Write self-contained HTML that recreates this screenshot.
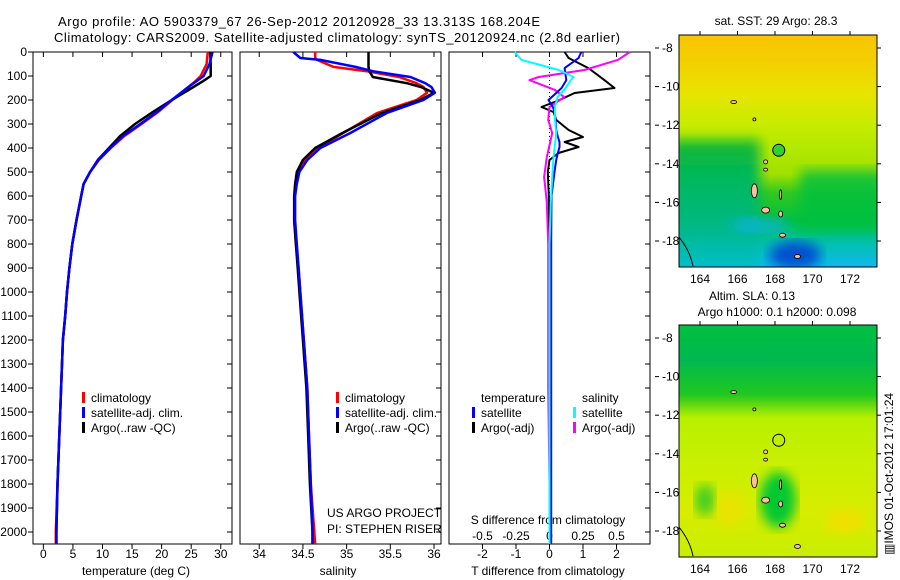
<!DOCTYPE html>
<html><head><meta charset="utf-8"><style>
html,body{margin:0;padding:0;background:#fff}
svg{display:block;font-family:"Liberation Sans",sans-serif}
text{font-size:12px;fill:#000}
</style></head><body>
<svg id="c" width="900" height="580" viewBox="0 0 900 580">
<defs>
<linearGradient id="sst" x1="0" y1="0" x2="0" y2="1">
<stop offset="0" stop-color="#f8c400"/><stop offset="0.12" stop-color="#f4d000"/>
<stop offset="0.25" stop-color="#e8e400"/><stop offset="0.38" stop-color="#c8ec00"/>
<stop offset="0.5" stop-color="#b0e800"/><stop offset="0.6" stop-color="#a0e000"/>
<stop offset="0.68" stop-color="#30c820"/><stop offset="0.8" stop-color="#00c040"/>
<stop offset="0.9" stop-color="#00c0b0"/><stop offset="1" stop-color="#10b8f0"/>
</linearGradient>
<linearGradient id="sstL" x1="0" y1="0" x2="0" y2="1">
<stop offset="0" stop-color="#10b830"/><stop offset="0.3" stop-color="#00b860"/>
<stop offset="0.6" stop-color="#00b880"/><stop offset="1" stop-color="#00c0e0"/>
</linearGradient>
<linearGradient id="sla" x1="0" y1="0" x2="0" y2="1">
<stop offset="0" stop-color="#00c040"/><stop offset="0.15" stop-color="#00b850"/>
<stop offset="0.3" stop-color="#20c820"/><stop offset="0.4" stop-color="#b8f000"/>
<stop offset="0.6" stop-color="#c8f000"/><stop offset="0.8" stop-color="#d8ec00"/>
<stop offset="1" stop-color="#c8ee00"/>
</linearGradient>
<filter id="bl"><feGaussianBlur stdDeviation="6"/></filter>
<clipPath id="m1"><rect x="679" y="35" width="198" height="232"/></clipPath>
<clipPath id="m2"><rect x="679" y="325" width="198" height="232"/></clipPath>
</defs>

<text x="58" y="26" style="font-size:13px" textLength="482">Argo profile: AO 5903379_67 26-Sep-2012 20120928_33 13.313S 168.204E</text>
<text x="54" y="42" style="font-size:13px" textLength="566">Climatology: CARS2009. Satellite-adjusted climatology: synTS_20120924.nc (2.8d earlier)</text>

<g id="panels"></g>

<g>
<text x="776" y="25" text-anchor="middle">sat. SST: 29 Argo: 28.3</text>
<g clip-path="url(#m1)">
<rect x="679" y="35" width="198" height="232" fill="url(#sst)"/>
<rect x="670" y="140" width="90" height="140" fill="url(#sstL)" filter="url(#bl)"/>
<rect x="800" y="170" width="85" height="60" fill="#00c040" filter="url(#bl)" opacity="0.8"/>
<ellipse cx="795" cy="255" rx="26" ry="14" fill="#0050d0" filter="url(#bl)"/>
<ellipse cx="760" cy="225" rx="30" ry="8" fill="#10b0f0" filter="url(#bl)" opacity="0.7"/>
</g>
<rect x="679" y="35" width="198" height="232" fill="none" stroke="#000"/>
</g>
<g>
<text x="752" y="300" text-anchor="middle">Altim. SLA: 0.13</text>
<text x="777" y="316" text-anchor="middle">Argo h1000: 0.1 h2000: 0.098</text>
<g clip-path="url(#m2)">
<rect x="679" y="325" width="198" height="232" fill="url(#sla)"/>
<ellipse cx="778" cy="500" rx="18" ry="28" fill="#00c830" filter="url(#bl)"/>
<ellipse cx="705" cy="500" rx="10" ry="16" fill="#40cc20" filter="url(#bl)"/>
<ellipse cx="845" cy="522" rx="20" ry="12" fill="#f0e000" filter="url(#bl)"/>
<ellipse cx="730" cy="510" rx="14" ry="18" fill="#f0e000" filter="url(#bl)" opacity="0.7"/>
</g>
<rect x="679" y="325" width="198" height="232" fill="none" stroke="#000"/>
<text transform="translate(893,555) rotate(-90)">▥IMOS 01-Oct-2012 17:01:24</text>
</g>
<g id="maps"></g>
</svg>
<script>
// ---- data ----
const depthT = [0,50,80,100,120,150,200,250,300,350,400,450,500,550,600,700,800,900,1000,1100,1200,1400,1600,1800,2000,2050];
const tempClim = [27.8,27.6,27.0,26.6,25.8,24.3,21.8,19.4,16.6,13.7,11.4,9.4,7.9,6.8,6.4,5.6,4.9,4.4,4.0,3.7,3.3,3.0,2.7,2.4,2.1,2.1];
const tempSat  = [28.6,28.1,27.5,27.1,26.0,24.3,21.7,19.2,16.4,13.5,11.3,9.3,7.9,6.8,6.4,5.6,4.9,4.4,4.0,3.7,3.3,3.0,2.7,2.4,2.2,2.2];
const tempArgo = [28.2,28.3,28.3,28.3,27.1,25.1,21.7,18.5,15.5,13.0,11.1,9.2,7.9,6.8,6.4,5.6,4.9,4.4,4.0,3.7,3.3,3.0,2.7,2.4,2.2,2.2];

const depthS = [0,25,33,62,80,104,130,146,170,200,254,338,400,450,500,550,600,700,800,900,1000,1200,1400,1600,1800,2000,2050];
const salClim = [34.64,34.64,34.66,34.85,35.23,35.6,35.8,35.88,35.92,35.8,35.35,34.96,34.67,34.53,34.45,34.42,34.4,34.4,34.42,34.45,34.47,34.51,34.55,34.57,34.59,34.63,34.64];
const salSat  = [34.39,34.47,34.7,35.1,35.3,35.73,35.9,35.97,36.01,35.88,35.46,35.04,34.7,34.55,34.46,34.43,34.41,34.41,34.43,34.45,34.47,34.51,34.55,34.57,34.59,34.61,34.61];
const salArgo = [35.25,35.25,35.25,35.25,35.26,35.3,35.69,35.85,36.0,35.84,35.4,34.95,34.64,34.5,34.43,34.41,34.4,34.4,34.42,34.44,34.46,34.5,34.54,34.56,34.58,34.61,34.61];

const depthD = [0,25,67,117,150,171,200,229,250,283,325,354,375,396,421,450,500,600,800,1000,1400,1800,2050];
const dTArgo = [0.45,0.57,1.16,1.64,1.94,0.75,0.3,-0.24,0.12,0.2,0.57,1.0,0.45,0.87,0.27,0.0,-0.05,-0.02,0.0,0.0,0.0,0.0,0.0];
const dTSat  = [0.95,0.87,0.45,0.5,0.36,0.2,-0.03,0.1,0.15,0.18,0.2,0.25,0.3,0.3,0.25,0.2,0.15,0.06,0.05,0.05,0.05,0.05,0.05];
const depthDS = [0,33,75,104,117,158,188,229,283,338,388,438,521,625,800,1000,1400,1800,2050];
const dSArgo = [0.6,0.51,0.26,-0.08,-0.15,0.04,0.11,0.0,-0.01,0.02,0.0,-0.02,-0.04,-0.02,-0.01,-0.01,-0.01,0.0,0.0];
const dSSat  = [-0.26,-0.21,0.07,0.18,0.16,0.11,0.06,0.04,0.04,0.05,0.04,0.03,0.02,0.01,0.0,0.0,0.0,0.0,0.0];

const depthTicks = [0,100,200,300,400,500,600,700,800,900,1000,1100,1200,1300,1400,1500,1600,1700,1800,1900,2000];
const tempTicks = [0,5,10,15,20,25,30];
const salTicks = [34,34.5,35,35.5,36];
const salTickLabels = ["34","34.5","35","35.5","36"];
const dTTicks = [-2,-1,0,1,2];
const dSTicks = [-0.5,-0.25,0,0.25,0.5];
const dSTickLabels = ["-0.5","-0.25","0","0.25","0.5"];
const lonTicks = [164,166,168,170,172];
const latTicks = [-8,-10,-12,-14,-16,-18];

// ---- helpers ----
const NS='http://www.w3.org/2000/svg';
const G=document.getElementById('panels');
function mk(tag,attrs,parent){const e=document.createElementNS(NS,tag);for(const k in attrs)e.setAttribute(k,attrs[k]);(parent||G).appendChild(e);return e;}
function txt(x,y,s,anchor,parent){const e=mk('text',{x:x,y:y,'text-anchor':anchor||'start'},parent);e.textContent=s;return e;}
const TOP=52, BOT=544;
const yD=d=>TOP+d*0.24;

const panels=[
 {x0:33,x1:232,lo:-1.75,hi:31.9},
 {x0:240,x1:441,lo:33.78,hi:36.08},
 {x0:449,x1:650,lo:-3.0,hi:3.0}
];
function sx(p,v){return p.x0+(v-p.lo)/(p.hi-p.lo)*(p.x1-p.x0);}
const pS={x0:449,x1:650,lo:-0.75,hi:0.75};

function line(p,vals,deps,color,w,name){
  const pts=vals.map((v,i)=>sx(p,v).toFixed(1)+','+yD(deps[i]).toFixed(1)).join(' ');
  const e=mk('polyline',{points:pts,fill:'none',stroke:color,'stroke-width':w,'stroke-linejoin':'round'});
  
  
}

panels.forEach((p,i)=>{
  const r=mk('rect',{x:p.x0,y:TOP,width:p.x1-p.x0,height:BOT-TOP,fill:'none',stroke:'#000'});
  
  
  depthTicks.forEach(d=>{
    const y=yD(d);
    if(i===0){mk('line',{x1:p.x0-5,y1:y,x2:p.x0,y2:y,stroke:'#000'});}
    mk('line',{x1:p.x1-5,y1:y,x2:p.x1,y2:y,stroke:'#000'});
  });
});
depthTicks.forEach(d=>{const t=txt(27,yD(d)+4,String(d),'end');
  
  });

tempTicks.forEach(v=>{const x=sx(panels[0],v);
  mk('line',{x1:x,y1:TOP,x2:x,y2:TOP+5,stroke:'#000'});mk('line',{x1:x,y1:BOT,x2:x,y2:BOT+5,stroke:'#000'});
  const t=txt(x,558,String(v),'middle');
  
  });
salTicks.forEach((v,i)=>{const x=sx(panels[1],v);
  mk('line',{x1:x,y1:TOP,x2:x,y2:TOP+5,stroke:'#000'});mk('line',{x1:x,y1:BOT,x2:x,y2:BOT+5,stroke:'#000'});
  const t=txt(x,558,salTickLabels[i],'middle');
  
  });
dTTicks.forEach(v=>{const x=sx(panels[2],v);
  mk('line',{x1:x,y1:TOP,x2:x,y2:TOP+5,stroke:'#000'});mk('line',{x1:x,y1:BOT,x2:x,y2:BOT+5,stroke:'#000'});
  const t=txt(x,558,String(v),'middle');
  
  });
dSTicks.forEach((v,i)=>{const x=sx(pS,v);
  const t=txt(x,540,dSTickLabels[i],'middle');
  
  });
const zx=sx(panels[2],0);
mk('line',{x1:zx,y1:TOP,x2:zx,y2:BOT,stroke:'#000','stroke-dasharray':'1,3'});

[[136,'temperature (deg C)'],[338,'salinity'],[548,'T difference from climatology']].forEach(a=>{
  const t=txt(a[0],575,a[1],'middle');
  
  });
{const t=txt(548,524,'S difference from climatology','middle');
 
 }
{const t=txt(327,517,'US ARGO PROJECT');}
{const t=txt(327,533,'PI: STEPHEN RISER');}

line(panels[0],tempClim,depthT,'#f00',2.5,'temp-climatology-line');
line(panels[0],tempArgo,depthT,'#000',2.5,'temp-argo-line');
line(panels[0],tempSat,depthT,'#00f',2.5,'temp-satellite-line');
line(panels[1],salClim,depthS,'#f00',2.5,'sal-climatology-line');
line(panels[1],salArgo,depthS,'#000',2.5,'sal-argo-line');
line(panels[1],salSat,depthS,'#00f',2.5,'sal-satellite-line');
line(panels[2],dTArgo,depthD,'#000',2,'tdiff-argo-line');
line(pS,dSArgo,depthDS,'#f0f',2,'sdiff-argo-line');
line(panels[2],dTSat,depthD,'#00f',2,'tdiff-satellite-line');
line(pS,dSSat,depthDS,'#0ff',2,'sdiff-satellite-line');

function leg(x,y,color,label){
  if(color){const b=mk('rect',{x:x-9,y:y-10,width:3,height:11,fill:color});
    
    }
  const t=txt(x,y,label);
  
  
}
[[91,'climatology','#f00'],[91,'satellite-adj. clim.','#00f'],[91,'Argo(..raw -QC)','#000']].forEach((a,i)=>leg(a[0],402+15*i,a[2],a[1]));
[[345,'climatology','#f00'],[345,'satellite-adj. clim.','#00f'],[345,'Argo(..raw -QC)','#000']].forEach((a,i)=>leg(a[0],402+15*i,a[2],a[1]));
leg(481,402,null,'temperature');leg(481,417,'#00f','satellite');leg(481,432,'#000','Argo(-adj)');
leg(582,402,null,'salinity');leg(582,417,'#0ff','satellite');leg(582,432,'#f0f','Argo(-adj)');

const M=document.getElementById('maps');
const lonX=l=>700+(l-164)*18.75;
[[35,267,48],[325,557,338]].forEach((m,mi)=>{
  const latY=la=>m[2]+(-8-la)*19.3;
  lonTicks.forEach(l=>{const x=lonX(l);
    mk('line',{x1:x,y1:m[0]-4,x2:x,y2:m[0],stroke:'#000'},M);
    const t=txt(x,m[1]+16,String(l),'middle',M);
    
    });
  latTicks.forEach(la=>{const y=latY(la);
    mk('line',{x1:655,y1:y,x2:659,y2:y,stroke:'#000'},M);
    mk('line',{x1:877,y1:y,x2:881,y2:y,stroke:'#000'},M);
    const t=txt(662,y+4,String(la),'start',M);
    
    });
  const g=mk('g',{'clip-path':'url(#m'+(mi+1)+')'},M);
  const isl=[[166.9,-15.4,3,7],[167.5,-16.4,4,3],[168.3,-16.6,2,3],[168.3,-15.6,1,5],[168.4,-17.7,3,2],[169.2,-18.8,3,2],[165.8,-10.8,3,1.5],[167.5,-13.9,2,2],[167.5,-14.3,2,1.5],[166.9,-11.7,1.5,1.5]];
  isl.forEach(s=>{const e=mk('ellipse',{cx:lonX(s[0]),cy:latY(s[1]),rx:s[2],ry:s[3],fill:'#f8c0a0',stroke:'#000','stroke-width':0.8},g);
    
    });
  mk('path',{d:`M679 ${latY(-17.8)} Q690 ${latY(-18.5)} 693 ${latY(-19.3)}`,fill:'none',stroke:'#000'},g);
  const c=mk('circle',{cx:lonX(168.2),cy:latY(-13.3),r:6,fill:mi?'none':'#30d030',stroke:'#000'},M);
  
  
});
</script>
</body></html>
